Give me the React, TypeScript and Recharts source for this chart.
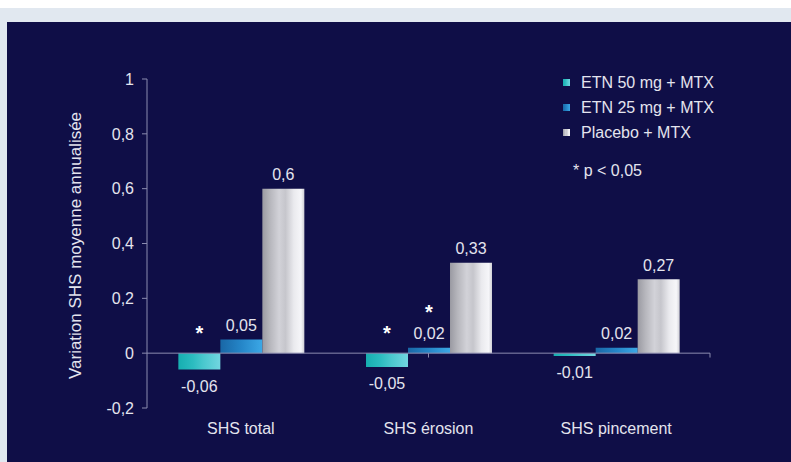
import React from 'react';
import {
  BarChart,
  Bar,
  XAxis,
  YAxis,
  ReferenceLine,
  LabelList,
  Label,
  Legend,
} from 'recharts';

// ---- data ----
const categories = ['SHS total', 'SHS érosion', 'SHS pincement'];
const etn50 = [-0.06, -0.05, -0.01];
const etn25 = [0.05, 0.02, 0.02];
const placebo = [0.6, 0.33, 0.27];
const sig50 = [true, true, false];
const sig25 = [false, true, false];
const yTicks = [-0.2, 0, 0.2, 0.4, 0.6, 0.8, 1];
const categoryEdges = [1, 2, 3];

const seriesNames = ['ETN 50 mg + MTX', 'ETN 25 mg + MTX', 'Placebo + MTX'];
const footnote = '* p < 0,05';
const yTitle = 'Variation SHS moyenne annualisée';

const data = categories.map((name, i) => ({
  name,
  etn50: etn50[i],
  etn25: etn25[i],
  placebo: placebo[i],
  sig50: sig50[i],
  sig25: sig25[i],
}));

// ---- styling ----
const FONT = '"Liberation Sans", Arial, Helvetica, sans-serif';
const TEXT = '#e4e4ee';
const AXIS = '#8c8cb0';
const NAVY = '#0f0e47';
const PAPER = '#e1e8f0';

const fmt = (v: number) => String(v).replace('.', ',');

const ValueLabel = (props: any) => {
  const { x, y, width, height, value } = props;
  if (value === undefined || value === null) return null;
  const top = Math.min(y, y + height);
  const bottom = Math.max(y, y + height);
  const cx = x + width / 2;
  const ty = value < 0 ? bottom + 17 : top - 14;
  return (
    <text
      x={cx}
      y={ty}
      fill={TEXT}
      fontSize={16}
      fontFamily={FONT}
      textAnchor="middle"
      dominantBaseline="central"
    >
      {fmt(value)}
    </text>
  );
};

const makeStar = (flags: boolean[], above: number) => (props: any) => {
  const { x, y, width, height, value, index } = props;
  if (!flags[index]) return null;
  const top = Math.min(y, y + height);
  const bottom = Math.max(y, y + height);
  const zero = value < 0 ? top : bottom;
  const ref = value < 0 ? zero : top;
  return (
    <text
      x={x + width / 2}
      y={ref - above + 6}
      fill="#ffffff"
      fontSize={20}
      fontWeight="bold"
      fontFamily={FONT}
      textAnchor="middle"
      dominantBaseline="central"
    >
      *
    </text>
  );
};

const Star50 = makeStar(sig50, 26);
const Star25 = makeStar(sig25, 42);

const gradIds = ['gTeal', 'gBlue', 'gGrey'];

const LegendBox = () => (
  <div style={{ fontFamily: FONT, color: TEXT, fontSize: 16, position: 'relative' }}>
    {seriesNames.map((n, i) => (
      <div key={n} style={{ height: 25, display: 'flex', alignItems: 'center' }}>
        <svg width={7} height={7} style={{ marginRight: 11, display: 'block' }}>
          <rect x={0} y={0} width={7} height={7} fill={`url(#${gradIds[i]})`} />
        </svg>
        <span>{n}</span>
      </div>
    ))}
    <div style={{ height: 25, marginTop: 13, display: 'flex', alignItems: 'center', paddingLeft: 10 }}>
      {footnote}
    </div>
  </div>
);

export default function App() {
  return (
    <div
      style={{
        position: 'absolute',
        left: 0,
        top: 0,
        width: 791,
        height: 462,
        background: '#ffffff',
        overflow: 'hidden',
      }}
    >
      <div style={{ position: 'absolute', left: 0, top: 8, width: 791, height: 454, background: PAPER }} />
      <div style={{ position: 'absolute', left: 7, top: 22, width: 784, height: 440, background: NAVY }} />
      <svg width={0} height={0} style={{ position: 'absolute' }}>
        <defs>
          <linearGradient id="gTeal" x1="0" y1="0" x2="1" y2="0">
            <stop offset="0%" stopColor="#16aeb0" />
            <stop offset="35%" stopColor="#2cbcc0" />
            <stop offset="60%" stopColor="#4ac8ce" />
            <stop offset="100%" stopColor="#72d6e0" />
          </linearGradient>
          <linearGradient id="gBlue" x1="0" y1="0" x2="1" y2="0">
            <stop offset="0%" stopColor="#1967a6" />
            <stop offset="50%" stopColor="#2586c8" />
            <stop offset="100%" stopColor="#3ca8e6" />
          </linearGradient>
          <linearGradient id="gGrey" x1="0" y1="0" x2="1" y2="0">
            <stop offset="0%" stopColor="#9a9aa2" />
            <stop offset="18%" stopColor="#b6b6bc" />
            <stop offset="40%" stopColor="#d2d2d8" />
            <stop offset="55%" stopColor="#c6c6cc" />
            <stop offset="75%" stopColor="#eaeaee" />
            <stop offset="92%" stopColor="#f6f6f9" />
            <stop offset="100%" stopColor="#d0d0d6" />
          </linearGradient>
        </defs>
      </svg>
      <div style={{ position: 'absolute', left: 0, top: 0 }}>
        <BarChart
          width={791}
          height={462}
          data={data}
          margin={{ top: 79, right: 81, bottom: 24, left: 72 }}
          barCategoryGap="16.7%"
          barGap={0}
        >
          <XAxis
            dataKey="name"
            axisLine={false}
            tickLine={false}
            height={30}
            tickMargin={9}
            tick={{ fill: TEXT, fontSize: 16, fontFamily: FONT }}
            interval={0}
          />
          <XAxis xAxisId="edges" type="number" domain={[0, 3]} hide />
          <YAxis
            width={75}
            domain={[-0.2, 1]}
            ticks={yTicks}
            interval={0}
            tickFormatter={fmt}
            axisLine={{ stroke: AXIS }}
            tickLine={{ stroke: AXIS }}
            tickSize={5}
            tickMargin={8}
            tick={{ fill: TEXT, fontSize: 16, fontFamily: FONT }}
          >
            <Label
              content={(p: any) => {
                const vb = p.viewBox;
                const cx = vb.x + 3;
                const cy = vb.y + vb.height / 2 + 2;
                return (
                  <text
                    x={cx}
                    y={cy}
                    transform={`rotate(-90 ${cx} ${cy})`}
                    fill={TEXT}
                    fontSize={17}
                    fontFamily={FONT}
                    textAnchor="middle"
                    dominantBaseline="central"
                  >
                    {yTitle}
                  </text>
                );
              }}
            />
          </YAxis>
          <ReferenceLine y={0} stroke={AXIS} strokeWidth={1} />
          {categoryEdges.map((e) => (
            <ReferenceLine
              key={e}
              xAxisId="edges"
              segment={[
                { x: e, y: 0 },
                { x: e, y: -0.016 },
              ]}
              stroke={AXIS}
              strokeWidth={1}
            />
          ))}
          <Bar dataKey="etn50" fill="url(#gTeal)" isAnimationActive={false}>
            <LabelList dataKey="etn50" content={ValueLabel} />
            <LabelList dataKey="etn50" content={Star50} />
          </Bar>
          <Bar dataKey="etn25" fill="url(#gBlue)" isAnimationActive={false}>
            <LabelList dataKey="etn25" content={ValueLabel} />
            <LabelList dataKey="etn25" content={Star25} />
          </Bar>
          <Bar dataKey="placebo" fill="url(#gGrey)" isAnimationActive={false}>
            <LabelList dataKey="placebo" content={ValueLabel} />
          </Bar>
          <Legend
            layout="vertical"
            align="center"
            verticalAlign="middle"
            content={() => <LegendBox />}
            wrapperStyle={{ position: 'absolute', left: 563, top: 70, width: 200, height: 'auto' }}
          />
        </BarChart>
      </div>
    </div>
  );
}
